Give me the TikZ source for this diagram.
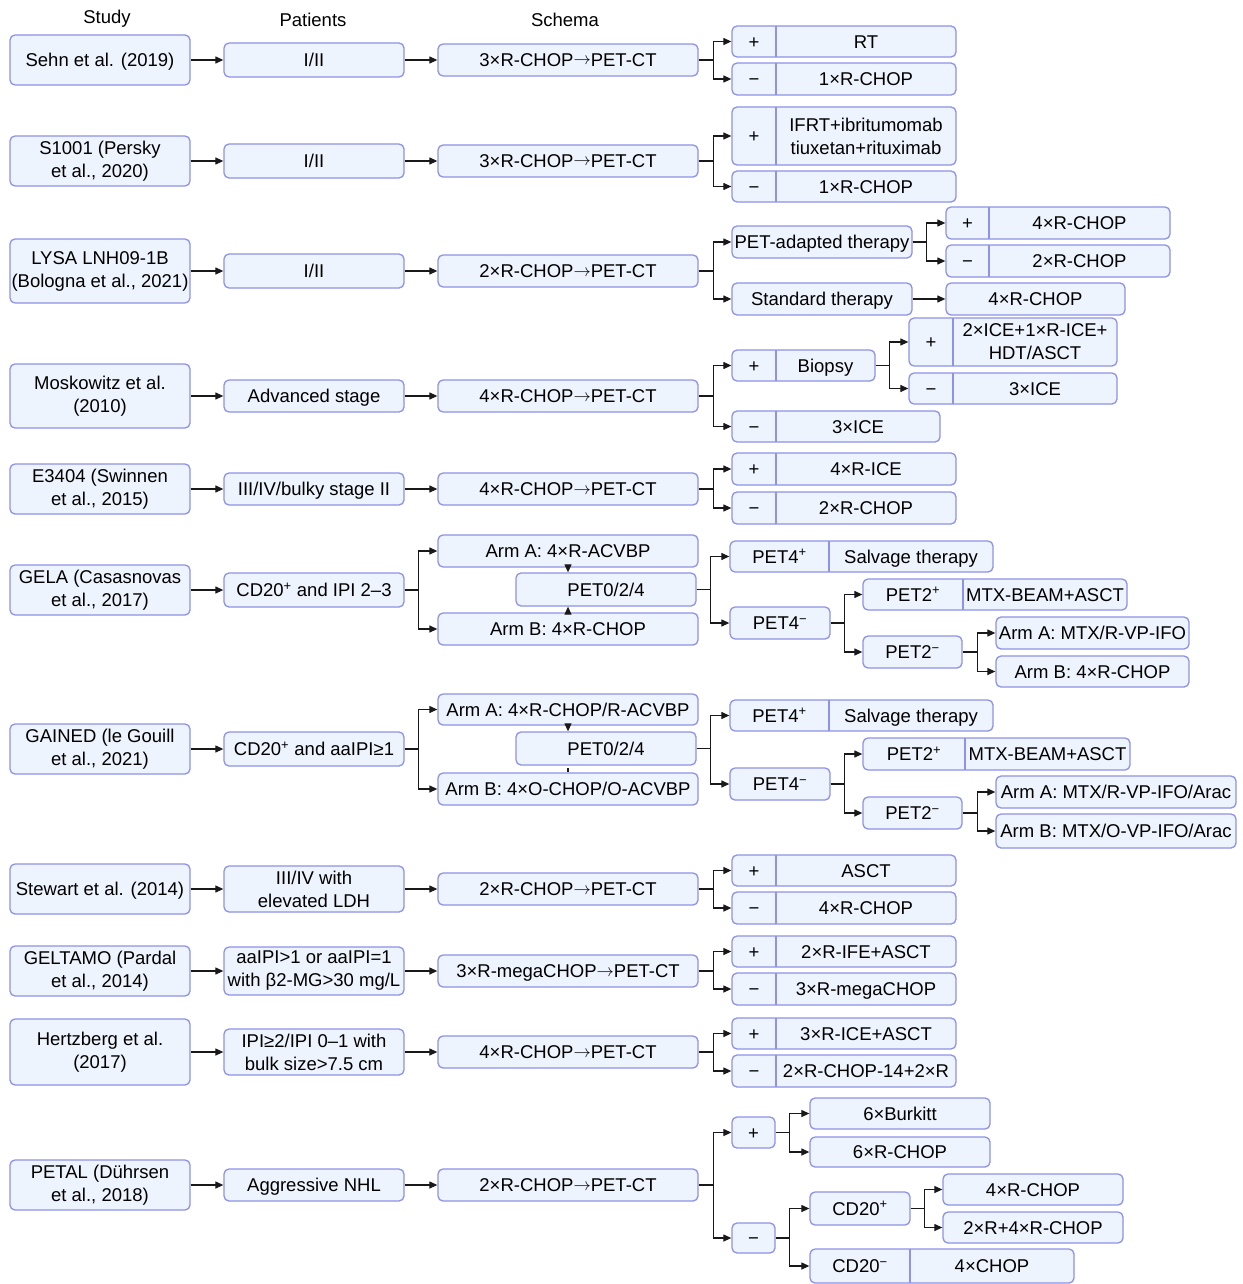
\documentclass[tikz,border=0pt]{standalone}
\usepackage{fontspec}
\setmainfont{Liberation Sans}
\usetikzlibrary{arrows.meta,calc}
\definecolor{bfill}{RGB}{238,244,253}
\definecolor{bdraw}{RGB}{142,146,232}
\definecolor{lcol}{RGB}{25,25,25}
\tikzset{
  box/.style={draw=bdraw,fill=bfill,line width=1.3pt,rounded corners=5pt,align=center,inner sep=1pt,
              font=\fontsize{18.5}{23}\selectfont},
  txt/.style={align=center,inner sep=0pt,font=\fontsize{18.5}{23}\selectfont},
  sl/.style={text height=16pt,text depth=2.8pt},
  divl/.style={draw=bdraw,line width=1.3pt},
  arr/.style={draw=lcol,line width=1.2pt,-{Triangle[length=8pt,width=7pt]}},
  ln/.style={draw=lcol,line width=1.2pt},
  hdr/.style={font=\fontsize{18.5}{23}\selectfont,inner sep=0pt,sl}
}
% name x1 y1 x2 y2 text  (single line)
\newcommand\mybox[6]{%
  \node[box,sl,minimum width={(#4-#2)*1pt},minimum height={(#5-#3)*1pt}] (#1) at ({(#2+#4)/2},{(#3+#5)/2}) {#6};}
% multi-line
\newcommand\myboxm[6]{%
  \node[box,minimum width={(#4-#2)*1pt},minimum height={(#5-#3)*1pt}] (#1) at ({(#2+#4)/2},{(#3+#5)/2}) {#6};}
% name x1 y1 xd x2 y2 left right
\newcommand\mysplit[8]{%
  \node[box,minimum width={(#5-#2)*1pt},minimum height={(#6-#3)*1pt}] (#1) at ({(#2+#5)/2},{(#3+#6)/2}) {};
  \draw[divl] (#4,#3) -- (#4,#6);
  \node[txt,sl] (#1-l) at ({(#2+#4)/2},{(#3+#6)/2}) {#7};
  \node[txt,sl] (#1-r) at ({(#4+#5)/2},{(#3+#6)/2}) {#8};}
\newcommand\mysplitm[8]{%
  \node[box,minimum width={(#5-#2)*1pt},minimum height={(#6-#3)*1pt}] (#1) at ({(#2+#5)/2},{(#3+#6)/2}) {};
  \draw[divl] (#4,#3) -- (#4,#6);
  \node[txt,sl] (#1-l) at ({(#2+#4)/2},{(#3+#6)/2}) {#7};
  \node[txt] (#1-r) at ({(#4+#5)/2},{(#3+#6)/2}) {#8};}
\newcommand\up[1]{\textsuperscript{#1}}
\newcommand\rarr{\raisebox{1.6pt}{$\rightarrow$}}
\begin{document}
\begin{tikzpicture}[x=1pt,y=-1pt]
\useasboundingbox[fill=white] (0,0) rectangle (1242,1284);
% headers
\node[hdr] (h1) at (107,17) {Study};
\node[hdr] (h2) at (313,20) {Patients};
\node[hdr] (h3) at (565,20) {Schema};

% Row 1
\mybox{s1}{10}{35}{190}{85}{Sehn et al. (2019)}
\mybox{p1}{224}{43}{404}{77}{I/II}
\mybox{c1}{438}{44}{698}{76}{3×R-CHOP\rarr PET-CT}
\mysplit{a1}{732}{26}{776}{956}{57}{+}{RT}
\mysplit{b1}{732}{63}{776}{956}{95}{−}{1×R-CHOP}
\draw[arr] (s1) -- (p1);
\draw[arr] (p1) -- (c1);
\draw[arr] (c1.east) -- ++(15,0) |- (a1.west);
\draw[arr] (c1.east) -- ++(15,0) |- (b1.west);

% Row 2
\myboxm{s2}{10}{136}{190}{186}{S1001 (Persky\\et al., 2020)}
\mybox{p2}{224}{144}{404}{178}{I/II}
\mybox{c2}{438}{145}{698}{177}{3×R-CHOP\rarr PET-CT}
\mysplitm{a2}{732}{107}{776}{956}{165}{+}{IFRT+ibritumomab\\tiuxetan+rituximab}
\mysplit{b2}{732}{171}{776}{956}{202}{−}{1×R-CHOP}
\draw[arr] (s2) -- (p2);
\draw[arr] (p2) -- (c2);
\draw[arr] (c2.east) -- ++(15,0) |- (a2.west);
\draw[arr] (c2.east) -- ++(15,0) |- (b2.west);

% Row 3
\myboxm{s3}{10}{239}{190}{303}{LYSA LNH09-1B\\(Bologna et al., 2021)}
\mybox{p3}{224}{254}{404}{288}{I/II}
\mybox{c3}{438}{255}{698}{287}{2×R-CHOP\rarr PET-CT}
\mybox{pa3}{732}{226}{912}{258}{PET-adapted therapy}
\mybox{st3}{732}{283}{912}{315}{Standard therapy}
\mysplit{pp3}{946}{207}{989}{1170}{239}{+}{4×R-CHOP}
\mysplit{pm3}{946}{245}{989}{1170}{277}{−}{2×R-CHOP}
\mybox{sr3}{946}{283}{1125}{315}{4×R-CHOP}
\draw[arr] (s3.east) -- (s3.east -| p3.west);
\draw[arr] (p3) -- (c3);
\draw[arr] (c3.east) -- ++(15,0) |- (pa3.west);
\draw[arr] (c3.east) -- ++(15,0) |- (st3.west);
\draw[arr] (pa3.east) -- ++(14,0) |- (pp3.west);
\draw[arr] (pa3.east) -- ++(14,0) |- (pm3.west);
\draw[arr] (st3) -- (sr3);

% Row 4
\myboxm{s4}{10}{364}{190}{428}{Moskowitz et al.\\(2010)}
\mybox{p4}{224}{380}{404}{412}{Advanced stage}
\mybox{c4}{438}{380}{698}{412}{4×R-CHOP\rarr PET-CT}
\mysplit{bio4}{732}{350}{776}{875}{381}{+}{Biopsy}
\mysplit{m4}{732}{411}{776}{940}{442}{−}{3×ICE}
\mysplitm{bp4}{909}{318}{953}{1117}{366}{+}{2×ICE+1×R-ICE+\\HDT/ASCT}
\mysplit{bm4}{909}{373}{953}{1117}{404}{−}{3×ICE}
\draw[arr] (s4.east) -- (s4.east -| p4.west);
\draw[arr] (p4) -- (c4);
\draw[arr] (c4.east) -- ++(15,0) |- (bio4.west);
\draw[arr] (c4.east) -- ++(15,0) |- (m4.west);
\draw[arr] (bio4.east) -- ++(14,0) |- (bp4.west);
\draw[arr] (bio4.east) -- ++(14,0) |- (bm4.west);

% Row 5
\myboxm{s5}{10}{464}{190}{514}{E3404 (Swinnen\\et al., 2015)}
\mybox{p5}{224}{473}{404}{505}{III/IV/bulky stage II}
\mybox{c5}{438}{473}{698}{505}{4×R-CHOP\rarr PET-CT}
\mysplit{a5}{732}{453}{776}{956}{485}{+}{4×R-ICE}
\mysplit{b5}{732}{492}{776}{956}{524}{−}{2×R-CHOP}
\draw[arr] (s5.east) -- (s5.east -| p5.west);
\draw[arr] (p5) -- (c5);
\draw[arr] (c5.east) -- ++(15,0) |- (a5.west);
\draw[arr] (c5.east) -- ++(15,0) |- (b5.west);

% Row 6 GELA
\myboxm{s6}{10}{565}{190}{615}{GELA (Casasnovas\\et al., 2017)}
\mybox{p6}{224}{573}{404}{607}{CD20\up{+} and IPI 2–3}
\mybox{armA6}{438}{535}{698}{567}{Arm A: 4×R-ACVBP}
\mybox{pet6}{516}{573}{696}{606}{PET0/2/4}
\mybox{armB6}{438}{613}{698}{645}{Arm B: 4×R-CHOP}
\mysplit{pp6}{730}{541}{829}{993}{572}{PET4\up{+}}{Salvage therapy}
\mybox{pn6}{730}{607}{830}{639}{PET4\up{−}}
\mysplit{q6}{863}{579}{963}{1127}{610}{PET2\up{+}}{MTX-BEAM+ASCT}
\mybox{r6}{863}{636}{962}{668}{PET2\up{−}}
\mybox{ra6}{996}{617}{1189}{649}{Arm A: MTX/R-VP-IFO}
\mybox{rb6}{996}{656}{1189}{687}{Arm B: 4×R-CHOP}
\draw[arr] (s6.east) -- (s6.east -| p6.west);
\draw[arr] (p6.east) -- ++(14,0) |- (armA6.west);
\draw[arr] (p6.east) -- ++(14,0) |- (armB6.west);
\draw[arr] (armA6.south) -- (armA6.south |- pet6.north);
\draw[arr] (armB6.north) -- (armB6.north |- pet6.south);
\draw[arr] (pet6.east) -- ++(14,0) |- (pp6.west);
\draw[arr] (pet6.east) -- ++(14,0) |- (pn6.west);
\draw[arr] (pn6.east) -- ++(14,0) |- (q6.west);
\draw[arr] (pn6.east) -- ++(14,0) |- (r6.west);
\draw[arr] (r6.east) -- ++(15,0) |- (ra6.west);
\draw[arr] (r6.east) -- ++(15,0) |- (rb6.west);

% Row 7 GAINED
\myboxm{s7}{10}{724}{190}{774}{GAINED (le Gouill\\et al., 2021)}
\mybox{p7}{224}{732}{404}{766}{CD20\up{+} and aaIPI≥1}
\mybox{armA7}{438}{694}{698}{725}{Arm A: 4×R-CHOP/R-ACVBP}
\mybox{pet7}{516}{732}{696}{765}{PET0/2/4}
\mybox{armB7}{438}{773}{698}{805}{Arm B: 4×O-CHOP/O-ACVBP}
\mysplit{pp7}{730}{700}{829}{993}{731}{PET4\up{+}}{Salvage therapy}
\mybox{pn7}{730}{768}{830}{800}{PET4\up{−}}
\mysplit{q7}{863}{738}{965}{1130}{770}{PET2\up{+}}{MTX-BEAM+ASCT}
\mybox{r7}{863}{797}{962}{829}{PET2\up{−}}
\mybox{ra7}{996}{776}{1236}{808}{Arm A: MTX/R-VP-IFO/Arac}
\mybox{rb7}{996}{814}{1236}{848}{Arm B: MTX/O-VP-IFO/Arac}
\draw[arr] (s7.east) -- (s7.east -| p7.west);
\draw[arr] (p7.east) -- ++(14,0) |- (armA7.west);
\draw[arr] (p7.east) -- ++(14,0) |- (armB7.west);
\draw[arr] (armA7.south) -- (armA7.south |- pet7.north);
\draw[ln] (armB7.north) -- ++(0,-4);
\draw[arr] (pet7.east) -- ++(14,0) |- (pp7.west);
\draw[arr] (pet7.east) -- ++(14,0) |- (pn7.west);
\draw[arr] (pn7.east) -- ++(14,0) |- (q7.west);
\draw[arr] (pn7.east) -- ++(14,0) |- (r7.west);
\draw[arr] (r7.east) -- ++(15,0) |- (ra7.west);
\draw[arr] (r7.east) -- ++(15,0) |- (rb7.west);

% Row 8
\mybox{s8}{10}{864}{190}{914}{Stewart et al. (2014)}
\myboxm{p8}{224}{866}{404}{912}{III/IV with\\elevated LDH}
\mybox{c8}{438}{873}{698}{905}{2×R-CHOP\rarr PET-CT}
\mysplit{a8}{732}{855}{776}{956}{886}{+}{ASCT}
\mysplit{b8}{732}{892}{776}{956}{924}{−}{4×R-CHOP}
\draw[arr] (s8) -- (s8 -| p8.west);
\draw[arr] (p8.east |- c8) -- (c8);
\draw[arr] (c8.east) -- ++(15,0) |- (a8.west);
\draw[arr] (c8.east) -- ++(15,0) |- (b8.west);

% Row 9
\myboxm{s9}{10}{946}{190}{996}{GELTAMO (Pardal\\et al., 2014)}
\myboxm{p9}{224}{947}{404}{995}{aaIPI>1 or aaIPI=1\\with β2-MG>30 mg/L}
\mybox{c9}{438}{955}{698}{987}{3×R-megaCHOP\rarr PET-CT}
\mysplit{a9}{732}{936}{776}{956}{967}{+}{2×R-IFE+ASCT}
\mysplit{b9}{732}{973}{776}{956}{1005}{−}{3×R-megaCHOP}
\draw[arr] (s9.east |- c9) -- (p9.west |- c9);
\draw[arr] (p9.east |- c9) -- (c9);
\draw[arr] (c9.east) -- ++(15,0) |- (a9.west);
\draw[arr] (c9.east) -- ++(15,0) |- (b9.west);

% Row 10
\myboxm{s10}{10}{1019}{190}{1085}{Hertzberg et al.\\(2017)}
\myboxm{p10}{224}{1029}{404}{1075}{IPI≥2/IPI 0–1 with\\bulk size>7.5 cm}
\mybox{c10}{438}{1036}{698}{1068}{4×R-CHOP\rarr PET-CT}
\mysplit{a10}{732}{1018}{776}{956}{1049}{+}{3×R-ICE+ASCT}
\mysplit{b10}{732}{1055}{776}{956}{1087}{−}{2×R-CHOP-14+2×R}
\draw[arr] (s10.east |- c10) -- (p10.west |- c10);
\draw[arr] (p10.east |- c10) -- (c10);
\draw[arr] (c10.east) -- ++(15,0) |- (a10.west);
\draw[arr] (c10.east) -- ++(15,0) |- (b10.west);

% Row 11 PETAL
\myboxm{s11}{10}{1160}{190}{1210}{PETAL (Dührsen\\et al., 2018)}
\mybox{p11}{224}{1169}{404}{1201}{Aggressive NHL}
\mybox{c11}{438}{1169}{698}{1201}{2×R-CHOP\rarr PET-CT}
\mybox{pl11}{732}{1117}{775}{1148}{+}
\mybox{mi11}{732}{1223}{775}{1253}{−}
\mybox{bk11}{810}{1098}{990}{1129}{6×Burkitt}
\mybox{rc11}{810}{1137}{990}{1167}{6×R-CHOP}
\mybox{cp11}{810}{1192}{910}{1225}{CD20\up{+}}
\mysplit{cm11}{810}{1249}{910}{1074}{1283}{CD20\up{−}}{4×CHOP}
\mybox{rf11}{943}{1174}{1123}{1205}{4×R-CHOP}
\mybox{rt11}{943}{1212}{1123}{1243}{2×R+4×R-CHOP}
\draw[arr] (s11.east |- p11) -- (p11);
\draw[arr] (p11) -- (c11);
\draw[arr] (c11.east) -- ++(15,0) |- (pl11.west);
\draw[arr] (c11.east) -- ++(15,0) |- (mi11.west);
\draw[arr] (pl11.east) -- ++(14,0) |- (bk11.west);
\draw[arr] (pl11.east) -- ++(14,0) |- (rc11.west);
\draw[arr] (mi11.east) -- ++(14,0) |- (cp11.west);
\draw[arr] (mi11.east) -- ++(14,0) |- (cm11.west);
\draw[arr] (cp11.east) -- ++(14,0) |- (rf11.west);
\draw[arr] (cp11.east) -- ++(14,0) |- (rt11.west);
\end{tikzpicture}
\end{document}
